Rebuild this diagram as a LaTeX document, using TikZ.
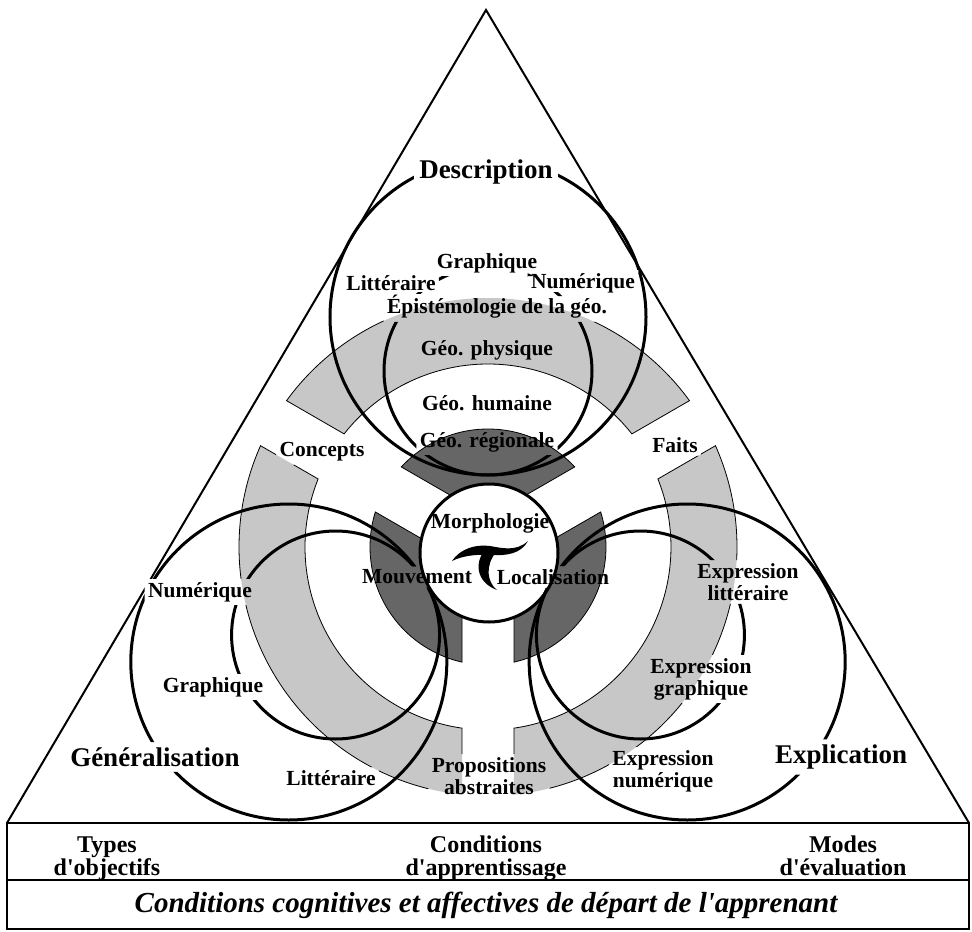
\documentclass[tikz,border=0pt]{standalone}
\usepackage{fontspec}
\setmainfont{Liberation Serif}
\definecolor{bandgray}{gray}{0.78}
\definecolor{coregray}{gray}{0.40}
\tikzstyle{band} = [fill=bandgray]
\tikzstyle{core} = [fill=coregray]
\tikzstyle{edge} = [draw, line width=0.4pt]
\tikzstyle{ring} = [draw, line width=1.5pt]
\tikzstyle{lbl} = [font=\fontsize{10.75}{11}\selectfont\bfseries, align=center, inner sep=1.5pt]
\tikzstyle{head} = [font=\fontsize{13.5}{16}\selectfont\bfseries, inner sep=2.5pt]
\tikzstyle{foot} = [font=\fontsize{12}{12}\selectfont\bfseries, anchor=base, inner sep=0pt]
% piece of an annulus between two gap strips: from, to, inner, outer, half gap
\newcommand{\ringpiece}[5]{({#1+asin(#5/#4)}:#4) arc[start angle={#1+asin(#5/#4)}, end angle={#2-asin(#5/#4)}, radius=#4]
  -- ({#2-asin(#5/#3)}:#3) arc[start angle={#2-asin(#5/#3)}, end angle={#1+asin(#5/#3)}, radius=#3] -- cycle}

\begin{document}
\begin{tikzpicture}[x=0.5pt, y=0.5pt]
    \useasboundingbox (-488,-384) rectangle (484,547);
    % bands
    \fill[band] \ringpiece{30}{150}{183}{249}{26};
    \fill[band] \ringpiece{150}{270}{183}{249}{26};
    \fill[band] \ringpiece{270}{390}{183}{249}{26};
    \fill[core] \ringpiece{30}{150}{55}{118}{26};
    \fill[core] \ringpiece{150}{270}{55}{118}{26};
    \fill[core] \ringpiece{270}{390}{55}{118}{26};
    \draw[edge] \ringpiece{30}{150}{55}{118}{26};
    \draw[edge] \ringpiece{150}{270}{55}{118}{26};
    \draw[edge] \ringpiece{270}{390}{55}{118}{26};
    % centre
    \draw[fill=white, line width=1.5pt] (1,-6) circle[radius=69];
    \begin{scope}[shift={(2,-19)}]
        \fill (-38,5) .. controls (-30,17) and (-15,22) .. (0,20) .. controls (12,18) and (26,14) .. (38,25)
            .. controls (31,12) and (16,10) .. (0,11) .. controls (-14,12) and (-28,10) .. (-38,5) -- cycle;
        \fill (-3,18) .. controls (-16,6) and (-15,-16) .. (7,-24) .. controls (-3,-16) and (-5,0) .. (6,14) -- cycle;
    \end{scope}
    % labels
    \node[head] (descr) at (-2,375) {Description};
    \node[head] (gener) at (-333,-210) {Généralisation};
    \node[head] (expli) at (353,-210) {Explication};
    \node[lbl] (tgraph) at (-1,284) {Graphique};
    \node[lbl] (tlitt) at (-97,264) {Littéraire};
    \node[lbl] (tnum) at (95,264) {Numérique};
    \node[lbl] (epis) at (9,240) {Épistémologie de la géo.};
    \node[lbl] (phys) at (-1,197) {Géo. physique};
    \node[lbl] (hum) at (-1,144) {Géo. humaine};
    \node[lbl] (reg) at (-1,105) {Géo. régionale};
    \node[lbl] (conc) at (-166,95) {Concepts};
    \node[lbl] (faits) at (187,102) {Faits};
    \node[lbl] (morph) at (2,24) {Morphologie};
    \node[lbl] (mouv) at (-71,-30) {Mouvement};
    \node[lbl] (local) at (65,-30) {Localisation};
    \node[lbl] (lnum) at (-288,-45) {Numérique};
    \node[lbl] (lgraph) at (-275,-140) {Graphique};
    \node[lbl] (llitt) at (-157,-231) {Littéraire};
    \node[lbl] (props) at (1,-229) {Propositions\\abstraites};
    \node[lbl] (exlitt) at (260,-35) {Expression\\littéraire};
    \node[lbl] (exgraph) at (213,-132) {Expression\\graphique};
    \node[lbl] (exnum) at (175,-224) {Expression\\numérique};
    % lines stop at the labels
    \begin{scope}[even odd rule]
        \clip (-488,-384) rectangle (484,547)
            foreach \n in {descr,gener,expli,tgraph,tlitt,tnum,epis,phys,hum,reg,conc,faits,morph,mouv,local,lnum,lgraph,llitt,props,exlitt,exgraph,exnum}
            {(\n.south west) rectangle (\n.north east)};
        \draw[edge] \ringpiece{30}{150}{183}{249}{26};
        \draw[edge] \ringpiece{150}{270}{183}{249}{26};
        \draw[edge] \ringpiece{270}{390}{183}{249}{26};
        \draw[ring] (90:230) circle[radius=158];
        \draw[ring] (90:176) circle[radius=104];
        \draw[ring] (210:230) circle[radius=158];
        \draw[ring] (210:176) circle[radius=104];
        \draw[ring] (330:230) circle[radius=158];
        \draw[ring] (330:176) circle[radius=104];
        \draw[line width=1pt] (-481,-276) -- (-2,537) -- (481,-276);
    \end{scope}
    % table
    \draw[line width=1.2pt] (-481,-276) rectangle (481,-382);
    \draw[line width=1.2pt] (-481,-333) -- (481,-333);
    \node[foot] (types) at (-381,-305) {Types};
    \node[foot] (objec) at (-381,-328) {d\textquotesingle objectifs};
    \node[foot] (condi) at (-2,-305) {Conditions};
    \node[foot] (appre) at (-2,-328) {d\textquotesingle apprentissage};
    \node[foot] (modes) at (355,-305) {Modes};
    \node[foot] (evalu) at (355,-328) {d\textquotesingle évaluation};
    \node[foot, font=\fontsize{14.5}{16}\selectfont\bfseries\itshape] (depart) at (-2,-365) {Conditions cognitives et affectives de départ de l\textquotesingle apprenant};
\end{tikzpicture}
\end{document}
